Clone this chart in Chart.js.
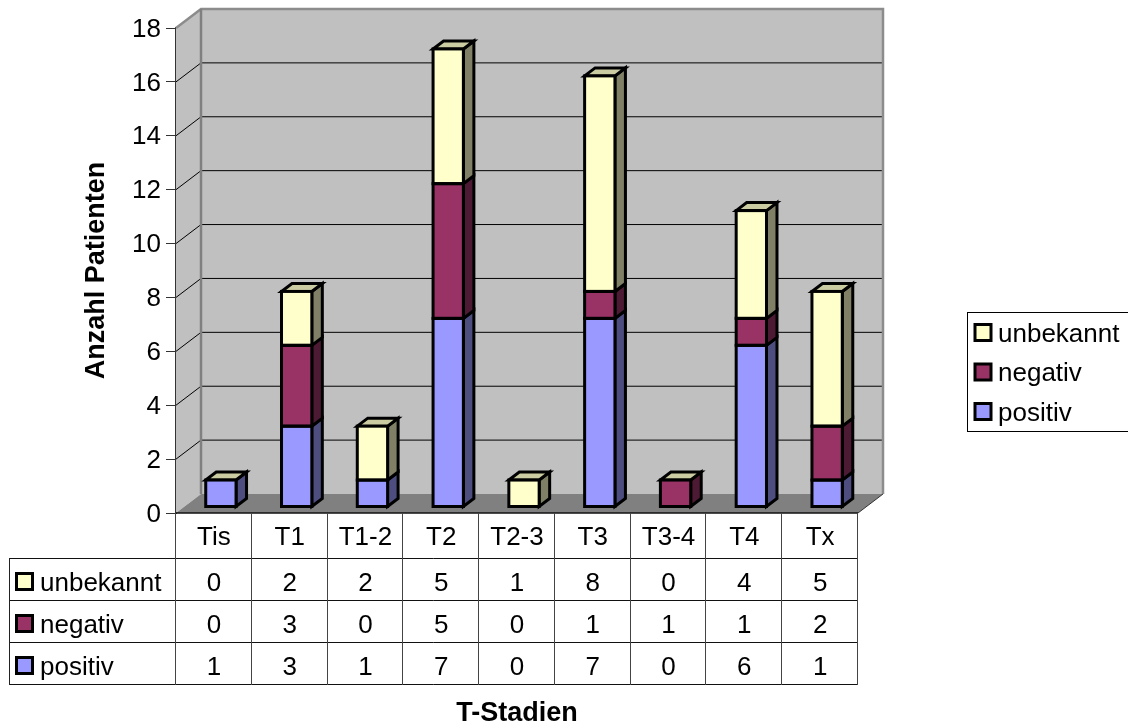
<!DOCTYPE html>
<html>
<head>
<meta charset="utf-8">
<style>
html, body { margin: 0; padding: 0; background: #fff; }
#wrap { width: 1128px; height: 727px; }
</style>
<script src="https://cdn.jsdelivr.net/npm/chart.js@4"></script>
</head>
<body>
<div id="wrap"><canvas id="stadien" width="1128" height="727"></canvas></div>
<script>
var categories = ['Tis', 'T1', 'T1-2', 'T2', 'T2-3', 'T3', 'T3-4', 'T4', 'Tx'];
var positiv = [1, 3, 1, 7, 0, 7, 0, 6, 1];
var negativ = [0, 3, 0, 5, 0, 1, 1, 1, 2];
var unbekannt = [0, 2, 2, 5, 1, 8, 0, 4, 5];
var yTicks = [0, 2, 4, 6, 8, 10, 12, 14, 16, 18];

var fontName = '"Liberation Sans", Arial, sans-serif';
var textSize = 26;
var titleSize = 27;

// front / side colour per series
var colors = {
    positiv: ['#9999ff', '#4d4d80'],
    negativ: ['#993366', '#4d1a33'],
    unbekannt: ['#ffffcc', '#808066']
};
var topColor = '#cccca3';

// depth of the walls and of the bars, and where bars sit on the floor
var wallDx = 25, wallDy = 19;
var barDx = 10.5, barDy = 8;
var shiftX = 7, shiftY = 6;
var edge = 3;

function box(ctx, x, y, w, h, fill, line, lw) {
    ctx.fillStyle = fill;
    ctx.fillRect(x, y, w, h);
    ctx.strokeStyle = line;
    ctx.lineWidth = lw;
    ctx.strokeRect(x, y, w, h);
}

function poly(ctx, pts, fill, line, lw) {
    ctx.beginPath();
    ctx.moveTo(pts[0][0], pts[0][1]);
    for (var i = 1; i < pts.length; i++) ctx.lineTo(pts[i][0], pts[i][1]);
    ctx.closePath();
    if (fill) { ctx.fillStyle = fill; ctx.fill(); }
    if (line) { ctx.strokeStyle = line; ctx.lineWidth = lw; ctx.lineJoin = 'miter'; ctx.stroke(); }
}

function seg(ctx, x1, y1, x2, y2, color, lw) {
    ctx.beginPath();
    ctx.moveTo(x1, y1);
    ctx.lineTo(x2, y2);
    ctx.strokeStyle = color;
    ctx.lineWidth = lw;
    ctx.stroke();
}

// back wall, side wall, floor and the lines running over them
var wallsPlugin = {
    id: 'walls',
    beforeDraw: function(chart) {
        // middle baseline sits a little high for these digits
        chart.scales.y.getLabelItems().forEach(function(item) {
            if (!item.nudged) {
                item.options.translation[1] += 1.5;
                item.nudged = true;
            }
        });
    },
    beforeDatasetsDraw: function(chart) {
        var ctx = chart.ctx, a = chart.chartArea, y = chart.scales.y;
        ctx.save();
        poly(ctx, [[a.left, a.top], [a.left + wallDx, a.top - wallDy], [a.left + wallDx, a.bottom - wallDy], [a.left, a.bottom]], '#c0c0c0');
        ctx.fillStyle = '#c0c0c0';
        ctx.fillRect(a.left + wallDx, a.top - wallDy, a.right - a.left, a.bottom - a.top);
        poly(ctx, [[a.left, a.bottom], [a.left + wallDx, a.bottom - wallDy], [a.right + wallDx, a.bottom - wallDy], [a.right, a.bottom]], '#808080');
        yTicks.forEach(function(v) {
            if (v === 0 || v === 18) return;
            var py = y.getPixelForValue(v);
            seg(ctx, a.left, py, a.left + wallDx, py - wallDy, '#000', 1);
            seg(ctx, a.left + wallDx, py - wallDy, a.right + wallDx, py - wallDy, '#000', 1);
        });
        // wall edges
        ctx.lineJoin = 'miter';
        ctx.beginPath();
        ctx.moveTo(a.left, a.top);
        ctx.lineTo(a.left + wallDx, a.top - wallDy);
        ctx.lineTo(a.right + wallDx, a.top - wallDy);
        ctx.lineTo(a.right + wallDx, a.bottom - wallDy);
        ctx.strokeStyle = '#8c8c8c';
        ctx.lineWidth = 2.5;
        ctx.stroke();
        seg(ctx, a.left + wallDx, a.top - wallDy, a.left + wallDx, a.bottom - wallDy, '#808080', 2.5);
        seg(ctx, a.right, a.bottom, a.right + wallDx, a.bottom - wallDy, '#333', 1);
        ctx.restore();
    }
};

// side and top faces behind the fronts, which the bar elements fill
var depthPlugin = {
    id: 'depth',
    beforeDatasetsDraw: function(chart) {
        var ctx = chart.ctx;
        ctx.save();
        chart.data.datasets.forEach(function(ds, d) {
            chart.getDatasetMeta(d).data.forEach(function(bar, i) {
                if (!ds.data[i]) return;
                var r = bar.x + bar.width / 2 + shiftX;
                var t = bar.y - shiftY, b = bar.base - shiftY;
                poly(ctx, [[r, t], [r + barDx, t - barDy], [r + barDx, b - barDy], [r, b]], ds.sideColor, '#000', edge);
            });
        });
        chart.getDatasetMeta(0).data.forEach(function(bar, i) {
            var last = chart.getDatasetMeta(2).data[i];
            var l = bar.x - bar.width / 2 + shiftX, r = bar.x + bar.width / 2 + shiftX;
            var t = last.y - shiftY;
            poly(ctx, [[l, t], [l + barDx, t - barDy], [r + barDx, t - barDy], [r, t]], topColor, '#000', edge);
        });
        ctx.translate(shiftX, -shiftY);
    },
    afterDatasetsDraw: function(chart) {
        var ctx = chart.ctx;
        // undo the shift, then outline every front
        ctx.restore();
        ctx.save();
        chart.data.datasets.forEach(function(ds, d) {
            chart.getDatasetMeta(d).data.forEach(function(bar, i) {
                if (!ds.data[i]) return;
                ctx.strokeStyle = '#000';
                ctx.lineWidth = edge;
                ctx.strokeRect(bar.x - bar.width / 2 + shiftX, bar.y - shiftY, bar.width, bar.base - bar.y);
            });
        });
        ctx.restore();
    }
};

// data table under the plot, plus the legend box on the right
var tablePlugin = {
    id: 'dataTable',
    afterDraw: function(chart) {
        var ctx = chart.ctx, a = chart.chartArea, x = chart.scales.x;
        var step = (a.right - a.left) / categories.length;
        var rows = [
            ['unbekannt', unbekannt, colors.unbekannt[0]],
            ['negativ', negativ, colors.negativ[0]],
            ['positiv', positiv, colors.positiv[0]]
        ];
        var rowY = [558, 600, 642, 684];
        ctx.save();
        ctx.font = textSize + 'px ' + fontName;
        ctx.textBaseline = 'alphabetic';
        seg(ctx, a.left, a.bottom, a.right, a.bottom, '#111', 1.5);
        rowY.forEach(function(py) { seg(ctx, 9.5, py + 0.5, a.right, py + 0.5, '#111', 1); });
        seg(ctx, 9.5, rowY[0], 9.5, rowY[3] + 1, '#222', 1);
        for (var c = 0; c <= categories.length; c++) {
            var vx = Math.round(a.left + c * step) - 0.5;
            seg(ctx, vx, a.bottom, vx, rowY[3] + 1, '#444', 1);
        }
        rows.forEach(function(row, r) {
            var base = rowY[r] + 32.5;
            box(ctx, 16.5, rowY[r] + 15.5, 16, 16, row[2], '#000', edge);
            ctx.fillStyle = '#000';
            ctx.textAlign = 'left';
            ctx.fillText(row[0], 40, base);
            ctx.textAlign = 'center';
            row[1].forEach(function(v, i) { ctx.fillText(String(v), x.getPixelForTick(i), base); });
        });

        // legend, its right side runs off the canvas
        var legendY = [341.5, 381, 420.5];
        ctx.strokeStyle = '#000';
        ctx.lineWidth = 1;
        ctx.strokeRect(967.5, 312.5, 170, 119);
        rows.forEach(function(row, r) {
            box(ctx, 975, legendY[r] - 17, 16, 16, row[2], '#000', edge);
            ctx.fillStyle = '#000';
            ctx.textAlign = 'left';
            ctx.fillText(row[0], 998, legendY[r]);
        });
        ctx.restore();
    }
};

new Chart(document.getElementById('stadien'), {
    type: 'bar',
    data: {
        labels: categories,
        datasets: [
            { label: 'positiv', data: positiv, backgroundColor: colors.positiv[0], sideColor: colors.positiv[1] },
            { label: 'negativ', data: negativ, backgroundColor: colors.negativ[0], sideColor: colors.negativ[1] },
            { label: 'unbekannt', data: unbekannt, backgroundColor: colors.unbekannt[0], sideColor: colors.unbekannt[1] }
        ]
    },
    options: {
        responsive: false,
        animation: false,
        events: [],
        clip: false,
        layout: { padding: { top: 28, right: 270, left: 0, bottom: 0 } },
        datasets: { bar: { categoryPercentage: 1, barPercentage: 0.4, borderWidth: 0 } },
        plugins: {
            legend: { display: false },
            title: { display: false },
            tooltip: { enabled: false }
        },
        scales: {
            x: {
                stacked: true,
                afterFit: function(s) { s.height = 214; },
                grid: { display: false },
                border: { display: false },
                ticks: { color: '#000', padding: 1, maxRotation: 0, font: { family: fontName, size: textSize } },
                title: { display: true, text: 'T-Stadien', color: '#000', padding: { top: 0, bottom: 0 }, font: { family: fontName, size: titleSize, weight: 'bold', lineHeight: 1 } }
            },
            y: {
                stacked: true,
                min: 0,
                max: 18,
                afterFit: function(s) { s.width = 176; },
                afterBuildTicks: function(s) { s.ticks = yTicks.map(function(v) { return { value: v }; }); },
                grid: { drawOnChartArea: false, drawTicks: true, tickLength: 10, color: '#333', lineWidth: 1 },
                border: { display: true, color: '#333', width: 2 },
                ticks: { color: '#000', padding: 5, font: { family: fontName, size: textSize } },
                title: { display: true, text: 'Anzahl Patienten', color: '#000', padding: { top: 83, bottom: 0 }, font: { family: fontName, size: titleSize, weight: 'bold', lineHeight: 1 } }
            }
        }
    },
    plugins: [wallsPlugin, depthPlugin, tablePlugin]
});
</script>
</body>
</html>
